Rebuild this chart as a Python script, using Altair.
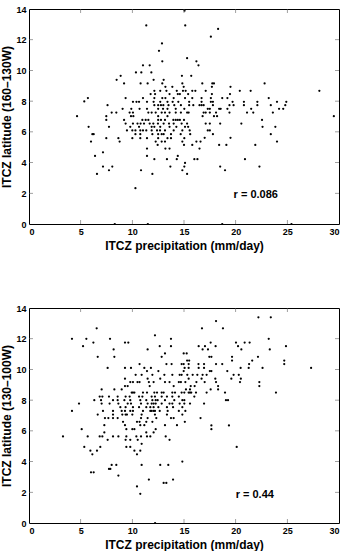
import altair as alt
import pandas as pd

# ---------------- data ----------------
top_points = [
(15.05,13.89),(11.35,12.93),(15.12,12.93),(12.87,11.76),(12.58,11.28),(12.9,10.59),(11.03,10.33),(11.68,10.33),
(10.35,9.87),(10.87,9.87),(11.84,9.87),(14.8,9.65),(8.87,9.65),(8.48,9.39),(9.2,9.15),(10.8,9.15),(11.48,9.15),
(12.06,9.39),(12.9,9.15),(13.03,9.39),(13.2,8.93),(13.87,8.93),(14.84,9.15),(14.97,8.93),(12.13,8.67),(12.7,8.67),
(13.3,8.67),(14.3,8.67),(14.9,8.67),(11.77,8.46),(12.2,8.46),(13.6,8.46),(14.4,8.46),(14.6,8.46),(9.35,8.2),
(11.03,8.2),(12.13,8.2),(12.9,8.2),(13.2,8.2),(14.0,8.2),(5.35,7.98),(5.7,8.2),(10.06,7.96),(10.4,7.96),(10.65,7.96),
(11.42,7.96),(12.06,7.96),(12.7,7.96),(13.4,7.96),(13.9,7.96),(14.45,7.96),(7.6,7.74),(9.06,7.5),(9.9,7.5),(10.7,7.5),
(11.42,7.5),(12.13,7.74),(12.5,7.74),(12.77,7.74),(13.0,7.74),(13.5,7.74),(14.06,7.74),(14.7,7.74),(15.03,7.5),
(12.5,7.5),(12.97,7.5),(13.4,7.5),(14.2,7.5),(8.0,7.26),(8.45,7.26),(9.74,7.26),(10.06,7.26),(11.55,7.26),(11.87,7.26),
(12.26,7.26),(12.84,7.26),(13.16,7.26),(13.6,7.26),(14.2,7.26),(14.7,7.26),(4.65,7.02),(7.48,7.02),(9.87,7.02),(10.1,7.02),
(18.3,12.7),(17.6,12.2),(15.3,10.8),(16.2,10.59),(16.4,10.33),(15.7,9.65),(16.77,9.15),(17.74,9.15),(17.9,9.15),
(22.8,9.15),(19.5,8.93),(17.7,8.93),(15.16,8.67),(15.8,8.67),(16.1,8.67),(17.1,8.67),(20.4,8.67),(21.45,8.67),(28.1,8.67),
(15.4,8.46),(17.7,8.46),(19.45,8.46),(15.1,8.2),(15.8,8.2),(16.7,8.2),(17.6,8.2),(18.7,8.2),(19.2,8.2),(23.2,8.2),
(15.5,7.96),(16.7,7.96),(17.6,7.96),(17.8,7.96),(19.7,7.96),(20.8,7.96),(22.1,7.96),(24.0,7.96),(24.9,7.96),
(15.5,7.74),(15.9,7.74),(16.5,7.74),(16.7,7.74),(16.9,7.74),(17.8,7.74),(19.4,7.74),(19.8,7.74),(20.8,7.74),(22.1,7.74),
(23.4,7.74),(24.8,7.74),(17.3,7.5),(17.5,7.5),(18.4,7.5),(18.55,7.5),(19.2,7.5),(21.5,7.5),(24.2,7.5),(24.6,7.5),
(15.3,7.26),(15.45,7.26),(16.9,7.26),(17.1,7.26),(17.5,7.26),(18.1,7.26),(19.4,7.26),(21.1,7.26),(21.7,7.26),(23.6,7.26),
(16.8,7.02),(17.9,7.02),(18.2,7.02),(29.5,7.02),
(7.48,6.78),(9.2,6.78),(10.97,6.78),(11.29,6.78),(11.55,6.78),(12.5,7.02),(12.5,6.78),(12.77,6.78),(13.16,6.78),(13.4,7.02),
(13.97,6.78),(14.2,6.78),(14.4,6.78),(14.6,6.78),(15.0,6.78),
(9.35,6.54),(10.06,6.54),(10.5,6.54),(10.8,6.54),(11.13,6.54),(11.68,6.54),(12.03,6.54),(12.48,6.54),(13.03,6.54),
(13.55,6.54),(14.0,6.54),(14.77,6.54),
(5.77,6.33),(7.74,6.33),(9.8,6.33),(10.65,6.33),(11.87,6.33),(12.13,6.33),(12.7,6.33),(13.6,6.33),(14.26,6.33),(15.1,6.33),
(9.48,6.09),(10.0,6.09),(10.3,6.09),(10.77,6.09),(11.03,6.09),(11.35,6.09),(11.87,6.09),(12.39,6.09),(12.68,6.09),
(13.16,6.09),(14.0,6.09),(14.84,6.09),
(6.13,5.85),(6.26,5.85),(10.3,5.85),(10.77,5.85),(11.94,5.85),(12.5,5.85),(12.84,5.85),(13.03,5.85),(13.74,5.85),(14.68,5.85),
(6.0,5.37),(7.48,5.59),(8.65,5.59),(8.77,5.37),(10.0,5.59),(10.77,5.59),(11.42,5.59),(12.26,5.37),(12.5,5.59),(12.84,5.37),
(13.16,5.37),(13.4,5.59),(13.74,5.59),(14.84,5.37),(15.03,5.59),
(11.42,4.91),(12.45,5.15),(13.2,4.91),(13.6,4.91),(15.0,5.15),
(6.39,4.43),(7.16,4.67),(11.42,4.43),(14.4,4.43),(12.13,4.22),(13.35,4.22),(14.3,4.22),(15.1,3.98),
(7.16,3.74),(8.06,3.74),(13.68,3.74),(15.03,3.74),(7.74,3.5),(10.84,3.5),(14.84,3.5),(6.58,3.26),(11.94,3.26),(10.3,2.33),
(8.3,0.0),(11.5,0.0),(18.7,0.0),(25.4,0.0),
(17.1,6.54),(17.5,6.54),(18.5,6.54),(20.55,6.54),(22.55,6.78),(15.3,6.54),(15.4,6.33),(22.6,6.33),(23.84,6.33),
(15.55,6.09),(17.3,6.09),(17.5,6.09),(17.8,5.85),(15.6,5.85),(23.4,5.85),(17.0,5.61),(16.2,5.37),(16.6,5.37),(24.0,5.37),
(19.5,5.61),(15.8,5.15),(18.4,5.15),(19.1,5.15),(21.9,5.15),(16.5,4.91),(16.0,4.22),(16.3,4.22),(20.9,4.22),
(18.5,3.74),(22.3,3.74),(18.97,3.5),(15.3,3.26),
]

bottom_points = [
(6.55,12.68),(4.16,11.99),(5.55,11.99),(6.23,11.75),(7.84,11.99),(5.23,11.51),(8.19,11.3),(9.29,11.75),(9.61,11.75),
(6.65,10.82),(8.26,10.82),(7.61,10.1),(11.48,11.3),(12.19,12.22),(12.65,11.51),(13.74,11.99),(13.74,11.51),(12.84,10.82),
(13.16,11.04),(14.97,11.04),(10.7,10.35),(11.16,10.1),(11.8,10.1),(13.3,10.35),(13.8,10.35),(14.77,10.35),(14.97,10.35),
(9.29,10.1),(9.87,10.1),(10.32,9.65),(10.9,9.65),(11.42,9.89),(11.94,9.65),(12.52,9.89),(13.1,9.65),(13.87,9.65),
(14.58,9.65),(14.77,9.65),(14.97,9.89),(9.29,9.4),(9.8,9.18),(10.06,9.18),(10.5,9.18),(10.7,9.18),(11.48,9.4),(11.6,9.18),
(12.06,9.18),(12.7,9.4),(13.16,9.18),(13.6,9.18),(14.5,9.18),(14.7,9.18),(9.29,8.92),(9.55,8.92),(11.68,8.92),(14.0,8.92),
(8.26,8.7),(7.03,8.7),(8.97,8.7),(9.94,8.49),(10.06,8.49),(10.2,8.49),(11.03,8.49),(11.42,8.49),(12.13,8.49),(12.39,8.49),
(12.84,8.49),(13.03,8.49),(13.87,8.49),(14.13,8.49),(14.77,8.49),(15.03,8.49),(6.84,8.23),(7.1,8.23),(7.74,8.23),
(8.58,8.23),(9.35,8.23),(9.74,8.23),(10.65,8.23),(10.97,8.23),(11.87,8.23),(12.19,8.23),(12.84,8.23),(13.35,8.23),
(13.87,8.23),(14.5,8.23),(6.32,8.0),(6.97,8.0),(8.13,8.0),(8.58,8.0),(9.23,8.0),(9.8,8.0),(10.77,8.0),(11.35,8.0),
(11.94,8.0),(12.26,8.0),(12.45,8.0),(13.16,8.0),(14.06,8.0),(14.84,8.0),(15.03,8.0),(4.84,7.78),(7.03,7.78),(7.8,7.78),
(8.65,7.78),(9.55,7.78),(9.87,7.78),(10.84,7.78),(11.48,7.78),(11.87,7.78),(12.06,7.78),(12.26,7.78),(12.84,7.78),
(13.6,7.78),(13.87,7.78),(14.58,7.78),(15.03,7.78),(8.84,7.54),(9.35,7.54),(10.06,7.54),(10.65,7.54),(11.35,7.54),
(11.74,7.54),(12.06,7.54),(12.52,7.54),(13.35,7.54),(13.94,7.54),(14.84,7.54),(4.16,7.3),(7.16,7.3),(8.13,7.3),(8.97,7.3),
(9.29,7.3),(9.8,7.3),(10.06,7.3),(11.03,7.3),(11.74,7.3),(11.87,7.3),(12.06,7.3),(12.19,7.3),(12.65,7.3),(13.42,7.3),
(14.5,7.3),(6.65,7.06),(8.13,7.06),(9.03,7.06),(9.35,7.06),(9.48,7.06),(10.0,7.06),(10.9,7.06),(12.19,7.06),(13.35,7.06),
(14.84,7.06),
(18.1,13.15),(22.2,13.39),(23.4,13.39),(16.74,12.68),(18.77,12.68),(17.58,11.75),(20.03,11.75),(20.87,11.75),(21.35,11.75),
(16.42,11.51),(17.03,11.51),(18.06,11.51),(20.23,11.51),(24.87,11.51),(16.8,11.3),(17.32,11.3),(20.55,11.3),(23.3,11.3),
(23.2,11.99),(15.26,11.04),(17.45,10.82),(17.65,10.82),(19.65,10.82),(22.16,10.82),(15.3,10.58),(15.5,10.58),(19.65,10.58),
(21.6,10.58),(24.7,10.58),(15.45,10.35),(16.4,10.35),(16.94,10.35),(18.1,10.35),(18.7,10.35),(21.3,10.35),(24.7,10.35),
(15.06,10.1),(15.45,10.1),(17.5,9.89),(17.65,9.89),(20.48,10.1),(21.26,10.1),(22.6,10.1),(27.3,10.1),(19.19,9.89),
(16.42,10.1),(16.94,10.1),(15.32,9.65),(15.84,9.65),(16.29,9.65),(16.8,9.65),(17.19,9.65),(19.8,9.65),(20.3,9.65),
(15.45,9.4),(16.7,9.4),(18.03,9.4),(19.58,9.4),(20.5,9.4),(15.13,9.18),(16.2,9.18),(17.0,9.18),(18.1,9.18),(20.42,9.18),
(22.29,9.18),(15.65,8.92),(16.03,8.92),(18.3,8.92),(22.29,8.92),(15.19,8.7),(15.58,8.7),(17.58,8.7),(18.3,8.7),
(15.45,8.49),(15.58,8.49),(15.7,8.49),(16.16,8.49),(17.19,8.49),(18.97,8.49),(23.9,8.49),(16.0,8.23),(19.06,8.0),
(19.26,8.0),(15.58,7.78),(16.94,7.78),(15.13,7.3),
(7.35,6.83),(7.68,6.83),(8.13,6.83),(8.58,6.83),(9.1,6.59),(9.29,6.37),(9.42,6.11),(10.0,6.11),(7.29,6.37),(10.45,6.59),
(10.7,6.59),(10.77,6.37),(10.84,6.83),(11.16,6.37),(11.35,6.59),(11.48,6.83),(11.94,6.59),(12.32,6.83),(13.16,6.37),
(13.74,6.83),(14.0,6.83),(14.32,6.37),(15.08,6.59),(5.1,6.11),(3.29,5.64),(5.68,5.64),(6.84,5.64),(7.1,5.64),(8.13,5.64),
(8.65,5.64),(7.29,5.9),(7.61,5.42),(9.42,5.64),(9.35,5.42),(9.8,5.42),(10.2,6.11),(10.39,5.64),(10.84,5.64),(10.52,5.42),
(10.9,5.16),(11.42,5.64),(11.74,5.64),(11.35,5.9),(12.06,5.9),(12.26,6.11),(13.23,5.64),(13.6,5.42),(5.35,4.95),
(5.94,4.71),(6.58,4.71),(6.9,4.95),(6.13,4.47),(9.42,4.95),(9.8,4.95),(10.2,4.71),(10.45,4.47),(10.77,4.71),(8.0,3.78),
(8.45,3.78),(7.74,3.52),(7.87,3.52),(6.0,3.3),(6.26,3.3),(8.65,3.09),(10.9,3.78),(12.7,3.78),(13.48,3.78),(11.6,2.83),
(13.03,2.61),(13.29,2.61),(13.94,2.83),(14.84,4.0),(10.45,2.38),(10.77,1.9),(12.2,0.0),
(16.6,6.83),(17.65,6.35),(17.65,6.11),(19.35,6.35),(20.1,4.95),
]

top_precip = [p[0] for p in top_points]
top_lat = [p[1] for p in top_points]
bottom_precip = [p[0] for p in bottom_points]
bottom_lat = [p[1] for p in bottom_points]

x_ticks = [0, 5, 10, 15, 20, 25, 30]
y_ticks = [0, 2, 4, 6, 8, 10, 12, 14]
x_inner_ticks = [5, 10, 15, 20, 25]
y_inner_ticks = [2, 4, 6, 8, 10, 12]

top_ylabel = "ITCZ latitude (160–130W)"
bottom_ylabel = "ITCZ latitude (130–100W)"
xlabel = "ITCZ precipitation (mm/day)"
top_r = ("r = 0.086", 19.8, 1.9)
bottom_r = ("r = 0.44", 20.0, 1.85)

# ---------------- chart ----------------
W, H = 310, 215
FONT = "Liberation Sans"
xscale = alt.Scale(domain=[0, 30], nice=False, zero=False)
yscale = alt.Scale(domain=[0, 14], nice=False, zero=False)


def make_axes(ylabel):
    xa = alt.Axis(values=x_ticks, title=xlabel, format="d", grid=False, ticks=False,
                  domain=False, labelPadding=3, titlePadding=4,
                  labelFont=FONT, labelFontSize=9, labelFontWeight="bold",
                  titleFont=FONT, titleFontSize=12, titleFontWeight="bold",
                  labelColor="black", titleColor="black")
    ya = alt.Axis(values=y_ticks, title=ylabel, format="d", grid=False, ticks=False,
                  domain=False, labelPadding=3, titlePadding=2,
                  labelFont=FONT, labelFontSize=9, labelFontWeight="bold",
                  titleFont=FONT, titleFontSize=12, titleFontWeight="bold",
                  labelColor="black", titleColor="black")
    return xa, ya


def panel(xs, ys, ylabel, rtext):
    xa, ya = make_axes(ylabel)
    df = pd.DataFrame({"precip": xs, "lat": ys})
    pts = alt.Chart(df).mark_circle(size=5, color="black", opacity=1, clip=False).encode(
        x=alt.X("precip:Q", scale=xscale, axis=xa),
        y=alt.Y("lat:Q", scale=yscale, axis=ya),
    )
    xt = pd.DataFrame({"precip": x_inner_ticks})
    yt = pd.DataFrame({"lat": y_inner_ticks})
    tick_style = dict(size=4, thickness=0.8, color="#555")
    tb = alt.Chart(xt).mark_tick(orient="vertical", **tick_style).encode(
        x=alt.X("precip:Q", scale=xscale, axis=xa), y=alt.value(H - 2))
    tt = alt.Chart(xt).mark_tick(orient="vertical", **tick_style).encode(
        x=alt.X("precip:Q", scale=xscale, axis=xa), y=alt.value(2))
    tl = alt.Chart(yt).mark_tick(orient="horizontal", **tick_style).encode(
        y=alt.Y("lat:Q", scale=yscale, axis=ya), x=alt.value(2))
    tr = alt.Chart(yt).mark_tick(orient="horizontal", **tick_style).encode(
        y=alt.Y("lat:Q", scale=yscale, axis=ya), x=alt.value(W - 2))
    rdf = pd.DataFrame({"label": [rtext[0]], "precip": [rtext[1]], "lat": [rtext[2]]})
    txt = alt.Chart(rdf).mark_text(align="left", baseline="middle", font=FONT, fontSize=11,
                                   fontWeight="bold", color="black").encode(
        x=alt.X("precip:Q", scale=xscale, axis=xa),
        y=alt.Y("lat:Q", scale=yscale, axis=ya), text="label:N")
    return alt.layer(pts, tb, tt, tl, tr, txt).properties(width=W, height=H)


top = panel(top_precip, top_lat, top_ylabel, top_r)
bottom = panel(bottom_precip, bottom_lat, bottom_ylabel, bottom_r)

chart = alt.vconcat(top, bottom, spacing=51).properties(
    padding={"left": 0, "top": 4, "right": 5, "bottom": 0},
    background="white",
).configure_view(stroke="black", strokeWidth=1)

chart.save("out.html", embed_options={"renderer": "svg", "actions": False})
